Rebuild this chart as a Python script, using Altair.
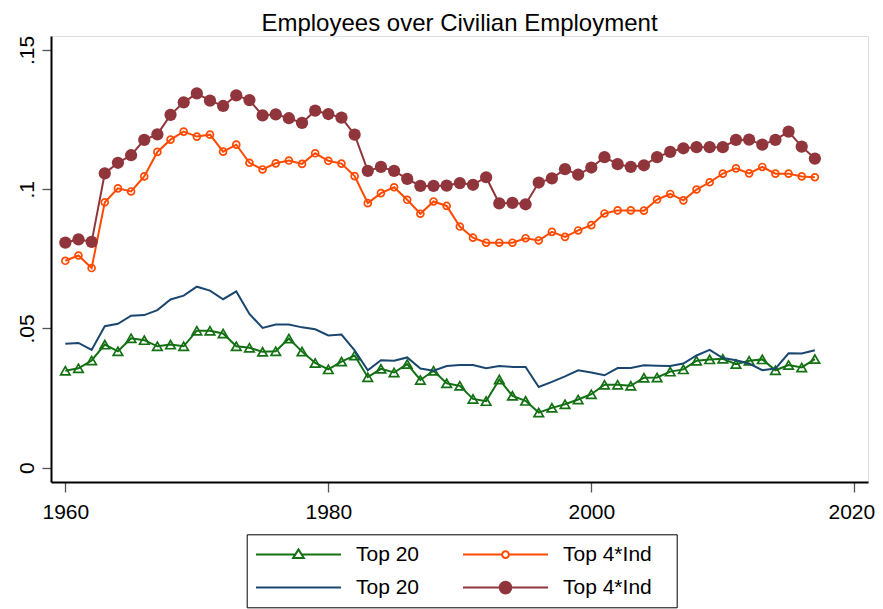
import altair as alt
import pandas as pd

years = list(range(1960, 2018))

# Top 20 (green, hollow triangles)
top20_mark = [0.0348, 0.0357, 0.0385, 0.0442, 0.0418, 0.0465, 0.0458, 0.0436, 0.0442, 0.0436,
              0.0492, 0.0492, 0.0482, 0.0436, 0.0431, 0.0416, 0.0418, 0.0464, 0.0417, 0.0376,
              0.0353, 0.0381, 0.0403, 0.0325, 0.0355, 0.0342, 0.0372, 0.0315, 0.0348, 0.0303,
              0.0294, 0.0247, 0.0239, 0.0317, 0.0258, 0.0240, 0.0198, 0.0215, 0.0228, 0.0245,
              0.0264, 0.0298, 0.0298, 0.0294, 0.0323, 0.0324, 0.0345, 0.0353, 0.0384, 0.0389,
              0.0391, 0.0372, 0.0384, 0.0389, 0.0350, 0.0369, 0.0360, 0.0390]
# Top 4*Ind (orange, hollow circles)
top4_hollow = [0.0743, 0.0762, 0.0717, 0.0953, 0.1003, 0.0992, 0.1046, 0.1134, 0.1178, 0.1207,
               0.1189, 0.1196, 0.1135, 0.1160, 0.1095, 0.1071, 0.1093, 0.1103, 0.1091, 0.1129,
               0.1102, 0.1092, 0.1047, 0.0950, 0.0986, 0.1007, 0.0962, 0.0912, 0.0956, 0.0940,
               0.0866, 0.0826, 0.0808, 0.0808, 0.0808, 0.0824, 0.0816, 0.0847, 0.0829, 0.0852,
               0.0871, 0.0913, 0.0924, 0.0924, 0.0923, 0.0963, 0.0983, 0.0960, 0.0999, 0.1025,
               0.1056, 0.1075, 0.1057, 0.1080, 0.1056, 0.1056, 0.1046, 0.1043]
# Top 20 (navy, plain line)
top20_line = [0.0445, 0.0448, 0.0423, 0.0508, 0.0517, 0.0546, 0.0548, 0.0566, 0.0604, 0.0618,
              0.0650, 0.0636, 0.0605, 0.0633, 0.0552, 0.0502, 0.0514, 0.0514, 0.0504, 0.0497,
              0.0475, 0.0478, 0.0421, 0.0350, 0.0386, 0.0384, 0.0396, 0.0356, 0.0348, 0.0365,
              0.0369, 0.0369, 0.0357, 0.0365, 0.0362, 0.0362, 0.0290, 0.0308, 0.0328, 0.0350,
              0.0342, 0.0332, 0.0358, 0.0358, 0.0368, 0.0366, 0.0365, 0.0374, 0.0403, 0.0423,
              0.0394, 0.0386, 0.0374, 0.0350, 0.0356, 0.0411, 0.0410, 0.0422]
# Top 4*Ind (maroon, filled circles)
top4_filled = [0.0808, 0.0820, 0.0811, 0.1057, 0.1095, 0.1122, 0.1177, 0.1197, 0.1267, 0.1312,
               0.1344, 0.1318, 0.1299, 0.1337, 0.1320, 0.1265, 0.1269, 0.1255, 0.1238, 0.1282,
               0.1270, 0.1257, 0.1196, 0.1066, 0.1080, 0.1066, 0.1037, 0.1012, 0.1012, 0.1013,
               0.1022, 0.1016, 0.1043, 0.0949, 0.0951, 0.0946, 0.1024, 0.1039, 0.1072, 0.1052,
               0.1078, 0.1115, 0.1090, 0.1080, 0.1086, 0.1115, 0.1134, 0.1147, 0.1151, 0.1151,
               0.1151, 0.1177, 0.1178, 0.1160, 0.1177, 0.1207, 0.1153, 0.1110]

series_keys = ["Top 20|tri", "Top 4*Ind|circ", "Top 20|line", "Top 4*Ind|dot"]
series_values = [top20_mark, top4_hollow, top20_line, top4_filled]
colors = ["#137013", "#ff4a00", "#1a476f", "#90353b"]
legend_fills = ["white", "white", "transparent", "#90353b"]
legend_paths = [
    "M-1.1,0H2.85M3.45,0H7.4M2.62,0.33L3.15,-0.52L3.68,0.33Z",
    "M-1.1,0H2.81M3.49,0H7.4M3.49,0C3.49,0.188 3.338,0.34 3.15,0.34C2.962,0.34 2.81,0.188 2.81,0"
    "C2.81,-0.188 2.962,-0.34 3.15,-0.34C3.338,-0.34 3.49,-0.188 3.49,0Z",
    "M-1.1,0H7.4",
    "M-1.1,0H7.4M3.73,0C3.73,0.32 3.47,0.58 3.15,0.58C2.83,0.58 2.57,0.32 2.57,0"
    "C2.57,-0.32 2.83,-0.58 3.15,-0.58C3.47,-0.58 3.73,-0.32 3.73,0Z",
]

rows = []
for key, vals in zip(series_keys, series_values):
    for yr, v in zip(years, vals):
        rows.append({"year": yr, "value": v, "series": key})
df = pd.DataFrame(rows)

FONT = "Liberation Sans"

x_enc = alt.X("year:Q",
              scale=alt.Scale(domain=[1958.91, 2021.04], nice=False, zero=False),
              axis=alt.Axis(values=[1960, 1980, 2000, 2020], format="d", title=None, grid=False,
                            labelFont=FONT, labelFontSize=21, labelColor="black",
                            labelOffset=alt.condition("datum.value == 2020", alt.value(-3), alt.value(0)),
                            tickSize=10, tickColor="#555555", tickWidth=1.3,
                            domainColor="black", domainWidth=2, labelPadding=9,
                            labelFlush=False))
y_enc = alt.Y("value:Q",
              scale=alt.Scale(domain=[-0.00513, 0.15502], nice=False, zero=False),
              axis=alt.Axis(values=[0, 0.05, 0.1, 0.15], title=None, grid=False,
                            labelExpr="datum.value == 0 ? '0' : replace(toString(datum.value), '0.', '.')",
                            labelFont=FONT, labelFontSize=21, labelColor="black",
                            labelAngle=-90, labelAlign="center", labelBaseline="bottom",
                            tickSize=9, tickColor="#555555", tickWidth=1.3,
                            domainColor="black", domainWidth=2, labelPadding=5))

layers = []
for key, col in zip(series_keys, colors):
    layers.append(
        alt.Chart(df).transform_filter(alt.datum.series == key)
        .mark_line(color=col, strokeWidth=2)
        .encode(x=x_enc, y=y_enc)
    )
    if key.endswith("|tri"):
        layers.append(
            alt.Chart(df).transform_filter(alt.datum.series == key)
            .mark_point(shape="triangle-up", filled=False, color=col, size=90, strokeWidth=1.7, opacity=1)
            .encode(x=x_enc, y=y_enc)
        )
    elif key.endswith("|circ"):
        layers.append(
            alt.Chart(df).transform_filter(alt.datum.series == key)
            .mark_point(shape="circle", filled=False, color=col, size=48, strokeWidth=1.7, opacity=1)
            .encode(x=x_enc, y=y_enc)
        )
    elif key.endswith("|dot"):
        layers.append(
            alt.Chart(df).transform_filter(alt.datum.series == key)
            .mark_point(shape="circle", filled=True, color=col, size=150, opacity=1)
            .encode(x=x_enc, y=y_enc)
        )

leg = alt.Legend(
    title=None, orient="none", legendX=195.7, legendY=498.3, columns=2, direction="horizontal",
    labelExpr="split(datum.label, '|')[0] + '\u2800'",
    labelFont=FONT, labelFontSize=21, labelColor="black", labelLimit=400,
    symbolSize=400, symbolStrokeWidth=2, symbolOpacity=1,
    symbolFillColor="transparent", symbolStrokeColor="black",
    labelOffset=78, padding=9.3, rowPadding=12, columnPadding=24,
    strokeColor="black", fillColor="white",
)

carrier = alt.Chart(df).mark_point(filled=True, opacity=0).encode(
    x=x_enc, y=y_enc,
    stroke=alt.Stroke("series:N", scale=alt.Scale(domain=series_keys, range=colors), legend=leg),
    fill=alt.Fill("series:N", scale=alt.Scale(domain=series_keys, range=legend_fills), legend=leg),
    shape=alt.Shape("series:N", scale=alt.Scale(domain=series_keys, range=legend_paths), legend=leg),
)

chart = alt.layer(*layers, carrier).properties(
    width=817, height=446,
    title=alt.Title("Employees over Civilian Employment", font=FONT, fontSize=24,
                    fontWeight="normal", color="black", anchor="middle", offset=-0.5),
    autosize=alt.AutoSizeParams(type="none"),
    padding={"left": 43, "top": 28, "right": 7, "bottom": 127},
).configure_view(stroke="#444444", strokeWidth=1.3).configure(background="white")

chart.save("out.html", embed_options={"renderer": "svg", "actions": False})
